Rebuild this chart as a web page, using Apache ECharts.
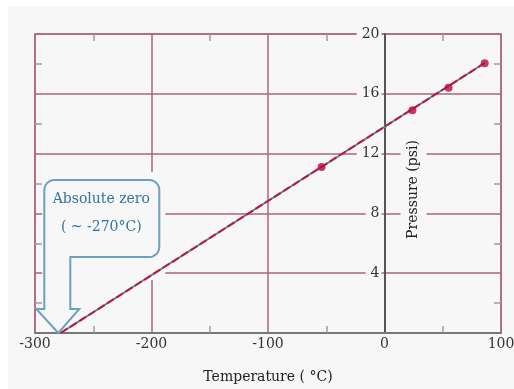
<!DOCTYPE html>
<html>
<head>
<meta charset="utf-8">
<script src="https://cdn.jsdelivr.net/npm/echarts@6/dist/echarts.min.js"></script>
<style>
  html, body { margin: 0; padding: 0; background: #ffffff; }
  #wrap { position: relative; width: 514px; height: 389px; }
  #bg { position: absolute; left: 8px; top: 6px; right: 0; bottom: 0; background: #f7f7f7; }
  #main { position: absolute; left: 0; top: 0; width: 514px; height: 389px; }
</style>
</head>
<body>
<div id="wrap"><div id="bg"></div><div id="main"></div></div>
<script>
// measured points (temperature °C, pressure psi)
const tempC = [-54, 24, 55, 86];
const pressure = [11.1, 14.9, 16.4, 18.05];
// extrapolated fit line down to absolute zero
const fitX = [-278, 86];
const fitY = [0, 18.06];
const xTicks = [-300, -200, -100, 0, 100];
const yTicks = [0, 4, 8, 12, 16, 20];

const FONT = 'DejaVu Serif';
const GRID_RED = '#ad6679';
const TICK_GREY = '#9a9aa6';
const GRID_LEFT = 35;

const chart = echarts.init(document.getElementById('main'), null, { renderer: 'canvas' });

const edgeAxis = (pos) => ({
  type: 'value', position: pos, min: yTicks[0], max: yTicks[yTicks.length - 1], interval: 4,
  axisLine: { show: false, onZero: false },
  axisTick: { show: false, inside: true },
  minorTick: { show: true, splitNumber: 2, length: 7, lineStyle: { color: TICK_GREY, width: 1.5 } },
  axisLabel: { show: false },
  splitLine: { show: false }
});

const option = {
  animation: false,
  grid: {
    left: GRID_LEFT, right: 13, top: 34, bottom: 56, outerBoundsMode: 'none',
    show: true, borderColor: GRID_RED, borderWidth: 1.5
  },
  xAxis: [
    {
      type: 'value', position: 'bottom', min: xTicks[0], max: xTicks[xTicks.length - 1], interval: 100,
      name: 'Temperature ( °C)', nameLocation: 'middle', nameGap: 37,
      nameTextStyle: { fontFamily: FONT, fontSize: 14, color: '#222' },
      axisLine: { onZero: false, lineStyle: { color: '#777', width: 2 } },
      axisTick: { show: false, inside: true },
      minorTick: { show: true, splitNumber: 2, length: 7, lineStyle: { color: TICK_GREY, width: 1.5 } },
      axisLabel: { fontFamily: FONT, fontSize: 14, color: '#333', margin: 4, showMinLabel: true, showMaxLabel: true },
      splitLine: { lineStyle: { color: GRID_RED, width: 1.5 } }
    },
    {
      type: 'value', position: 'top', min: xTicks[0], max: xTicks[xTicks.length - 1], interval: 100,
      axisLine: { show: false, onZero: false },
      axisTick: { show: false, inside: true },
      minorTick: { show: true, splitNumber: 2, length: 7, lineStyle: { color: TICK_GREY, width: 1.5 } },
      axisLabel: { show: false },
      splitLine: { show: false }
    }
  ],
  yAxis: [
    {
      // pressure axis sits on x = 0; offset is set below once the scale is known
      type: 'value', position: 'left', min: yTicks[0], max: yTicks[yTicks.length - 1], interval: 4,
      name: 'Pressure (psi)', nameLocation: 'middle', nameGap: -42, nameMoveOverlap: false,
      nameTextStyle: { fontFamily: FONT, fontSize: 14, color: '#222', backgroundColor: '#f7f7f7', padding: [6, 12, 6, 0] },
      axisLine: { onZero: false, lineStyle: { color: '#555', width: 2 } },
      axisTick: { show: false },
      axisLabel: {
        fontFamily: FONT, fontSize: 14, color: '#333', margin: 3,
        backgroundColor: '#f7f7f7', padding: [0, 2, 0, 5],
        formatter: (v) => (v === 0 ? '' : String(v))
      },
      splitLine: { lineStyle: { color: GRID_RED, width: 1.5 } }
    },
    edgeAxis('left'),
    edgeAxis('right')
  ],
  series: [
    {
      // teal under-line, shows through the dash gaps
      type: 'line', data: fitX.map((x, i) => [x, fitY[i]]), showSymbol: false, z: 3,
      lineStyle: { color: '#3f8e8a', width: 2 }
    },
    {
      type: 'line', data: fitX.map((x, i) => [x, fitY[i]]), showSymbol: false, z: 4,
      lineStyle: { color: '#c8123f', width: 2, type: [8, 3] }
    },
    {
      type: 'scatter', data: tempC.map((x, i) => [x, pressure[i]]), z: 5,
      symbolSize: 8, itemStyle: { color: '#b30d3a' }
    }
  ]
};
chart.setOption(option);

// move the pressure axis onto x = 0
const zeroX = chart.convertToPixel({ xAxisIndex: 0 }, 0);
chart.setOption({ yAxis: [{ offset: -(zeroX - GRID_LEFT) }] });

// "Absolute zero" callout, anchored at its tip on the x axis
const tip = chart.convertToPixel({ gridIndex: 0 }, [-280, 0]);
const tx = tip[0], ty = tip[1];
const P = (x, y) => [tx + x - 57, ty + y - 333];
// rounded corner, from angle a0 to a1 (degrees)
const corner = (cx, cy, r, a0, a1) => {
  const pts = [];
  for (let k = 0; k <= 6; k++) {
    const a = (a0 + (a1 - a0) * k / 6) * Math.PI / 180;
    pts.push(P(cx + r * Math.cos(a), cy + r * Math.sin(a)));
  }
  return pts;
};
const calloutPts = [].concat(
  corner(53, 190, 10, 180, 270),
  corner(148, 190, 10, 270, 360),
  corner(148, 247, 10, 0, 90),
  [P(69, 257), P(69, 309), P(78, 309), P(57, 333), P(35, 309), P(43, 309)]
);

chart.setOption({
  graphic: [
    // background patch that breaks the grid behind the callout
    { type: 'rect', z: 1, silent: true,
      shape: { x: tx - 16, y: ty - 161, width: 123, height: 108 },
      style: { fill: '#f7f7f7' } },
    { type: 'polygon', z: 6, silent: true,
      shape: { points: calloutPts },
      style: { fill: 'rgba(247,247,247,0.6)', stroke: '#6d9fc3', lineWidth: 2 } },
    { type: 'text', z: 7, silent: true, x: tx + 43, y: ty - 134,
      style: { text: 'Absolute zero', font: '14px "' + FONT + '"', fill: '#33739f', align: 'center', verticalAlign: 'middle' } },
    { type: 'text', z: 7, silent: true, x: tx + 43, y: ty - 106,
      style: { text: '( ~ -270°C)', font: '14px "' + FONT + '"', fill: '#33739f', align: 'center', verticalAlign: 'middle' } }
  ]
});
</script>
</body>
</html>
